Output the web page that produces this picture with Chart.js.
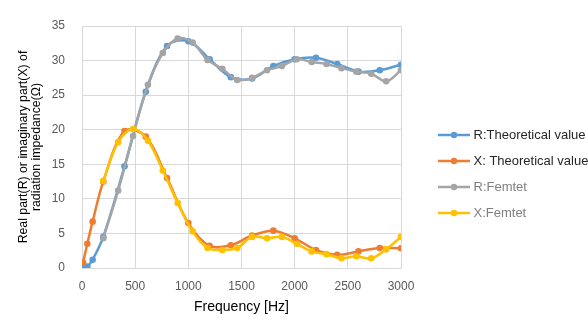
<!DOCTYPE html>
<html>
<head>
<meta charset="utf-8">
<script src="https://cdn.jsdelivr.net/npm/chart.js@4.4.0/dist/chart.umd.min.js"></script>
<style>
  html, body { margin: 0; padding: 0; background: #fff; }
  #wrap { width: 588px; height: 328px; }
</style>
</head>
<body>
<div id="wrap"><canvas id="impChart"></canvas></div>
<script>
// Radiation impedance vs frequency: theoretical curves and Femtet results

const theoryFreq = [10, 50, 100, 200, 400, 600, 800, 1000, 1200, 1400, 1600, 1800, 2000, 2200, 2400, 2600, 2800, 3000];
const rTheory    = [0, 0.2, 1.2, 4.5, 14.7, 25.5, 32.1, 32.8, 30.2, 27.6, 27.4, 29.2, 30.2, 30.4, 29.5, 28.4, 28.6, 29.4];
const xTheory    = [0.8, 3.5, 6.7, 12.5, 19.8, 19.0, 13.0, 6.5, 3.2, 3.3, 4.7, 5.4, 4.3, 2.6, 1.9, 2.4, 2.9, 2.85];

const femtetFreq = [200, 340, 480, 620, 760, 900, 1040, 1180, 1320, 1460, 1600, 1740, 1880, 2020, 2160, 2300, 2440, 2580, 2720, 2860, 3000];
const rFemtet    = [4.3, 11.2, 19.1, 26.5, 31.1, 33.2, 32.6, 30.1, 28.8, 27.2, 27.5, 28.6, 29.2, 30.2, 29.8, 29.5, 28.9, 28.4, 28.1, 27.0, 28.6];
const xFemtet    = [12.6, 18.2, 20.1, 18.4, 14.1, 9.4, 5.3, 2.9, 2.6, 2.9, 4.5, 4.3, 4.5, 3.5, 2.4, 2.0, 1.4, 1.7, 1.4, 2.7, 4.5];

const seriesNames = ['R:Theoretical value', 'X: Theoretical value', 'R:Femtet', 'X:Femtet'];
const xTicks = [0, 500, 1000, 1500, 2000, 2500, 3000];
const yTicks = [0, 5, 10, 15, 20, 25, 30, 35];

const COLORS = ['#5B9BD5', '#ED7D31', '#A5A5A5', '#FFC000'];
const TEXT_COLORS = ['#262626', '#262626', '#7F7F7F', '#7F7F7F'];
const FONT = "'Liberation Sans', Arial, sans-serif";

// legend column: fixed width, nudged right away from the plot
const LEGEND_W = 187;
const LEGEND_DX = 27;
const LEGEND_DY = -3;

function toPoints(freqs, vals) {
    return freqs.map((f, i) => ({ x: f, y: vals[i] }));
}

// small line + marker swatch for legend entries
function legendSwatch(color) {
    const c = document.createElement('canvas');
    c.width = 32;
    c.height = 10;
    const g = c.getContext('2d');
    g.strokeStyle = color;
    g.lineWidth = 2.5;
    g.beginPath();
    g.moveTo(0, 5);
    g.lineTo(32, 5);
    g.stroke();
    g.fillStyle = color;
    g.beginPath();
    g.arc(16, 5, 3.2, 0, Math.PI * 2);
    g.fill();
    return c;
}

function makeSet(i, freqs, vals, order) {
    return {
        label: seriesNames[i],
        data: toPoints(freqs, vals),
        borderColor: COLORS[i],
        backgroundColor: COLORS[i],
        borderWidth: 2.5,
        pointRadius: 3.3,
        pointBorderWidth: 0,
        pointHoverRadius: 4,
        tension: 0.35,
        fill: false,
        order: order
    };
}

const legendPlace = {
    id: 'legendPlace',
    beforeLayout(chart) {
        const lg = chart.legend;
        if (lg && !lg._fixedWidth) {
            const fit = lg.fit.bind(lg);
            lg.fit = function() {
                fit();
                this.width = LEGEND_W;
            };
            lg._fixedWidth = true;
        }
    },
    afterLayout(chart) {
        const lg = chart.legend;
        if (!lg) return;
        lg.left += LEGEND_DX;
        lg.right += LEGEND_DX;
        lg.top += LEGEND_DY;
        lg.bottom += LEGEND_DY;
    }
};

const ctx = document.getElementById('impChart').getContext('2d');
const impChart = new Chart(ctx, {
    type: 'line',
    data: {
        datasets: [
            makeSet(0, theoryFreq, rTheory, 4),
            makeSet(1, theoryFreq, xTheory, 3),
            makeSet(2, femtetFreq, rFemtet, 2),
            makeSet(3, femtetFreq, xFemtet, 1)
        ]
    },
    plugins: [legendPlace],
    options: {
        responsive: true,
        maintainAspectRatio: false,
        animation: false,
        layout: { padding: { top: 26, right: 0, left: 0, bottom: 0 } },
        plugins: {
            tooltip: { enabled: false },
            legend: {
                position: 'right',
                align: 'center',
                labels: {
                    usePointStyle: true,
                    pointStyleWidth: 26,
                    padding: 13,
                    color: '#262626',
                    font: { family: FONT, size: 13 },
                    sort: (a, b) => a.datasetIndex - b.datasetIndex,
                    generateLabels: function(chart) {
                        const items = Chart.defaults.plugins.legend.labels.generateLabels(chart);
                        items.forEach(it => {
                            it.pointStyle = legendSwatch(COLORS[it.datasetIndex]);
                            it.fontColor = TEXT_COLORS[it.datasetIndex];
                        });
                        return items;
                    }
                }
            }
        },
        scales: {
            x: {
                type: 'linear',
                min: 0,
                max: 3000,
                afterBuildTicks: s => { s.ticks = xTicks.map(v => ({ value: v })); },
                afterFit: s => { s.height = 60; },
                ticks: {
                    color: '#595959',
                    font: { family: FONT, size: 12 },
                    padding: 11,
                    maxRotation: 0,
                    callback: v => String(v)
                },
                grid: { color: '#D9D9D9', drawTicks: false },
                border: { color: '#D9D9D9' },
                title: {
                    display: true,
                    text: 'Frequency [Hz]',
                    color: '#000000',
                    font: { family: FONT, size: 14 },
                    padding: { top: 0, bottom: 12 }
                }
            },
            y: {
                min: 0,
                max: 35,
                afterBuildTicks: s => { s.ticks = yTicks.map(v => ({ value: v })); },
                afterFit: s => { s.width = 82; },
                ticks: {
                    color: '#595959',
                    font: { family: FONT, size: 12 },
                    padding: 17,
                    callback: v => String(v)
                },
                grid: { color: '#D9D9D9', drawTicks: false },
                border: { color: '#D9D9D9' },
                title: {
                    display: true,
                    text: ['Real part(R) or imaginary part(X) of', 'radiation impedance(\u03A9)'],
                    color: '#000000',
                    font: { family: FONT, size: 12.3, lineHeight: 1.08 },
                    padding: { top: 16.5, bottom: 0 }
                }
            }
        }
    }
});
</script>
</body>
</html>
